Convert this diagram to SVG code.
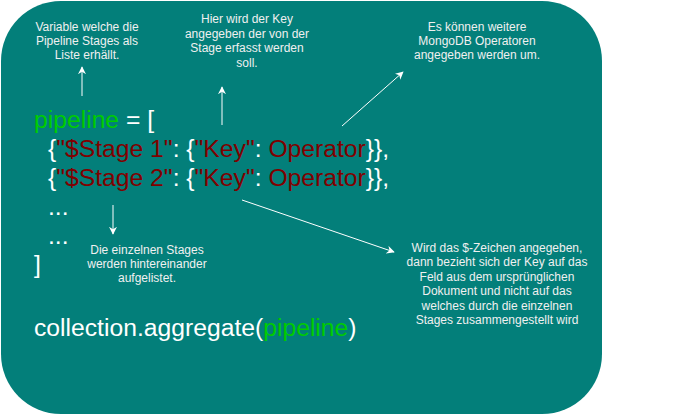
<svg xmlns="http://www.w3.org/2000/svg" width="689" height="417" viewBox="0 0 689 417">
<style>
.code{font-family:"Liberation Sans",Arial,sans-serif;font-size:24.7px;fill:#FFFFFF}
.g{fill:#00CC00}
.r{fill:#800000}
.lbl{font-family:"Liberation Sans",Arial,sans-serif;font-size:12px;fill:#F0F0F0;text-anchor:middle}
.conn{stroke:#FFFFFF;stroke-width:1;fill:none}
</style>
<defs>
<marker id="ah" viewBox="0 0 10 10" refX="9" refY="5" markerWidth="8" markerHeight="8" markerUnits="userSpaceOnUse" orient="auto">
<path d="M0,0 L10,5 L0,10 L3,5 Z" fill="#FFFFFF"/>
</marker>
</defs>
<rect id="panel" x="1" y="1" width="601" height="413" rx="60" ry="60" fill="#037F7A"/>
<g id="code">
<text class="code" x="34" y="128"><tspan class="g">pipeline</tspan> = [</text>
<text class="code" x="48" y="157">{<tspan class="r">"$Stage 1"</tspan>: {<tspan class="r">"Key"</tspan>: <tspan class="r">Operator</tspan>}},</text>
<text class="code" x="48" y="186">{<tspan class="r">"$Stage 2"</tspan>: {<tspan class="r">"Key"</tspan>: <tspan class="r">Operator</tspan>}},</text>
<text class="code" x="48" y="215">...</text>
<text class="code" x="48" y="244">...</text>
<text class="code" x="34" y="273">]</text>
<text class="code" x="34" y="336">collection.aggregate(<tspan class="g">pipeline</tspan>)</text>
</g>
<g id="label-variable">
<text class="lbl" x="87" y="31">Variable welche die</text>
<text class="lbl" x="87" y="45">Pipeline Stages als</text>
<text class="lbl" x="87" y="59">Liste erhällt.</text>
</g>
<g id="label-key">
<text class="lbl" x="247" y="23">Hier wird der Key</text>
<text class="lbl" x="247" y="38">angegeben der von der</text>
<text class="lbl" x="247" y="52">Stage erfasst werden</text>
<text class="lbl" x="247" y="67">soll.</text>
</g>
<g id="label-operator">
<text class="lbl" x="477" y="31">Es können weitere</text>
<text class="lbl" x="477" y="45">MongoDB Operatoren</text>
<text class="lbl" x="477" y="59">angegeben werden um.</text>
</g>
<g id="label-stages">
<text class="lbl" x="147" y="254">Die einzelnen Stages</text>
<text class="lbl" x="147" y="268">werden hintereinander</text>
<text class="lbl" x="147" y="282">aufgelistet.</text>
</g>
<g id="label-dollar">
<text class="lbl" x="497" y="252">Wird das $-Zeichen angegeben,</text>
<text class="lbl" x="497" y="266">dann bezieht sich der Key auf das</text>
<text class="lbl" x="497" y="281">Feld aus dem ursprünglichen</text>
<text class="lbl" x="497" y="295">Dokument und nicht auf das</text>
<text class="lbl" x="497" y="310">welches durch die einzelnen</text>
<text class="lbl" x="497" y="324">Stages zusammengestellt wird</text>
</g>
<g id="connectors">
<line class="conn" x1="82" y1="96" x2="82" y2="67" marker-end="url(#ah)"/>
<line class="conn" x1="222" y1="125" x2="222" y2="87" marker-end="url(#ah)"/>
<line class="conn" x1="342" y1="126" x2="403" y2="72" marker-end="url(#ah)"/>
<line class="conn" x1="113" y1="205" x2="113" y2="234" marker-end="url(#ah)"/>
<line class="conn" x1="242" y1="200" x2="394" y2="252" marker-end="url(#ah)"/>
</g>
</svg>
